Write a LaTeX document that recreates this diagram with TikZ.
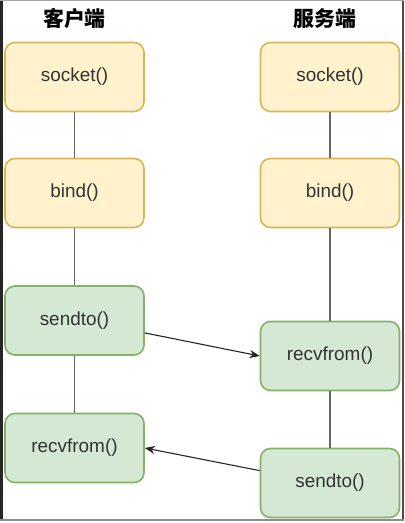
\documentclass[tikz,border=0pt]{standalone}
\usepackage{fontspec}
\setmainfont{Liberation Sans}
\newfontfamily\cjk{Noto Sans CJK SC}
\usetikzlibrary{arrows.meta}

\definecolor{yfill}{HTML}{FFF2CC}
\definecolor{yline}{HTML}{D6B656}
\definecolor{gfill}{HTML}{D5E8D4}
\definecolor{gline}{HTML}{82B366}

\begin{document}
\begin{tikzpicture}[x=1bp, y=-1bp,
  callbox/.style={draw, rounded corners=10bp, line width=1.6bp,
    minimum width=139bp, minimum height=69bp, inner sep=0pt,
    text=black!80, font=\fontsize{19}{21}\selectfont},
  setup/.style={callbox, fill=yfill, draw=yline},
  talk/.style={callbox, fill=gfill, draw=gline},
  life/.style={draw=black!60, line width=1.1bp},
  msg/.style={draw=black!85, line width=1.1bp, -{Stealth[length=10bp, width=8bp, inset=3bp]}}]

\useasboundingbox (0,0) rectangle (404,523);

\def\XL{74.5}
\def\XR{330}

%%% frame
\draw[black!85, line width=3bp] (1.5,0) -- (1.5,520);
\draw[black!70, line width=2bp] (402.5,0) -- (402.5,520);
\draw[black!35, line width=1bp] (0,0.5) -- (404,0.5);
\draw[black!45, line width=1.5bp] (0,520) -- (404,520);

%%% titles
\node (cli) at (\XL, 19) {\cjk\bfseries\fontsize{21}{23}\selectfont 客户端};
\node (srv) at (325, 19) {\cjk\bfseries\fontsize{21}{23}\selectfont 服务端};

%%% client side
\node[setup] (sockL) at (\XL, 77) {socket()};
\node[setup] (bindL) at (\XL, 193) {bind()};
\node[talk]  (sendL) at (\XL, 320.5) {sendto()};
\node[talk]  (recvL) at (\XL, 448) {recvfrom()};

%%% server side
\node[setup] (sockR) at (\XR, 77) {socket()};
\node[setup] (bindR) at (\XR, 193) {bind()};
\node[talk]  (recvR) at (\XR, 356) {recvfrom()};
\node[talk]  (sendR) at (\XR, 483) {sendto()};

\draw[life] (sockL) -- (bindL);
\draw[life] (bindL) -- (sendL);
\draw[life] (sendL) -- (recvL);

\draw[life] (sockR) -- (bindR);
\draw[life] (bindR) -- (recvR);
\draw[life] (recvR) -- (sendR);

\draw[msg] (sendL.-10) -- (recvR.west);
\draw[msg] (sendR.170) -- (recvL.east);

\end{tikzpicture}
\end{document}
